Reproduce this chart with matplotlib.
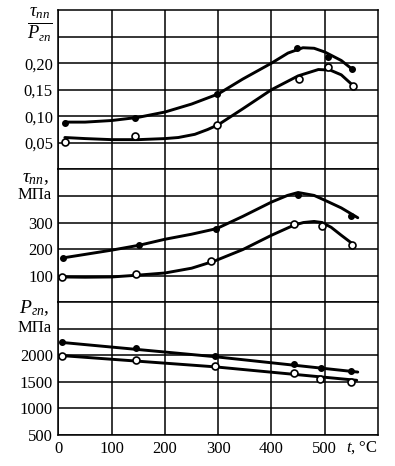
import matplotlib
matplotlib.use("Agg")
from matplotlib import pyplot as plt

plt.rcParams['font.family'] = ['Liberation Serif', 'DejaVu Serif']
plt.rcParams['mathtext.fontset'] = 'custom'
plt.rcParams['mathtext.rm'] = 'Liberation Serif'
plt.rcParams['mathtext.it'] = 'Liberation Serif:italic'
plt.rcParams['mathtext.bf'] = 'Liberation Serif:bold'

# --- ratio tau/P (top panel) ---
ratio_curve1_t = [12, 50, 100, 150, 200, 250, 300, 346, 400, 431, 459, 480, 500, 531, 551]
ratio_curve1_v = [0.089, 0.089, 0.092, 0.098, 0.108, 0.123, 0.142, 0.170, 0.200, 0.219, 0.229, 0.228, 0.221, 0.205, 0.189]
ratio_curve2_t = [12, 50, 100, 150, 200, 225, 256, 280, 300, 346, 400, 450, 488, 510, 531, 553]
ratio_curve2_v = [0.060, 0.058, 0.056, 0.056, 0.058, 0.060, 0.066, 0.075, 0.084, 0.114, 0.150, 0.176, 0.188, 0.187, 0.178, 0.158]
ratio_pts1_t = [12, 143, 297, 448, 506, 551]
ratio_pts1_v = [0.088, 0.096, 0.142, 0.228, 0.212, 0.189]
ratio_pts2_t = [12, 144, 297, 452, 506, 553]
ratio_pts2_v = [0.052, 0.062, 0.083, 0.170, 0.192, 0.157]

# --- tau_nn, MPa (middle panel) ---
tau_curve1_t = [9, 50, 100, 153, 200, 250, 297, 346, 400, 430, 450, 480, 500, 531, 562]
tau_curve1_v = [167, 180, 196, 215, 237, 256, 277, 323, 377, 402, 413, 402, 384, 355, 318]
tau_curve2_t = [6, 50, 100, 150, 200, 250, 293, 346, 400, 442, 460, 480, 495, 512, 531, 556]
tau_curve2_v = [95, 94, 95, 102, 110, 128, 155, 198, 252, 290, 300, 304, 300, 282, 252, 214]
tau_pts1_t = [9, 151, 296, 450, 550]
tau_pts1_v = [167, 217, 277, 405, 323]
tau_pts2_t = [6, 145, 287, 442, 495, 551]
tau_pts2_v = [95, 105, 154, 296, 286, 214]

# --- P_gp, MPa (bottom panel) ---
p_line1_t = [6, 293, 562]
p_line1_v = [2243, 1975, 1685]
p_line2_t = [6, 293, 560]
p_line2_v = [1995, 1784, 1530]
p_pts1_t = [6, 145, 293, 442, 493, 550]
p_pts1_v = [2243, 2130, 1995, 1829, 1765, 1703]
p_pts2_t = [6, 146, 293, 442, 492, 550]
p_pts2_v = [1995, 1910, 1797, 1671, 1553, 1502]

x_ticks = [0, 100, 200, 300, 400, 500]

fig = plt.figure(figsize=(3.95, 4.66), dpi=100)
left, width = 0.148, 0.809
ax1 = fig.add_axes([left, 0.6365, width, 0.342])
ax2 = fig.add_axes([left, 0.3515, width, 0.285])
ax3 = fig.add_axes([left, 0.0665, width, 0.285])

lw = 2.1
for ax in (ax1, ax2, ax3):
    ax.set_xlim(0, 600)
    ax.set_xticks(x_ticks)
    ax.grid(True, color='black', linewidth=1.1)
    ax.tick_params(length=0, labelsize=12, pad=4)
    for s in ax.spines.values():
        s.set_linewidth(1.1)
    ax.set_axisbelow(True)

ax1.set_ylim(0, 0.30)
ax1.set_yticks([0.05, 0.10, 0.15, 0.20, 0.25], ['0,05', '0,10', '0,15', '0,20', ''])
ax1.tick_params(labelbottom=False)
ax1.plot(ratio_curve1_t, ratio_curve1_v, color='black', lw=lw, solid_capstyle='round')
ax1.plot(ratio_curve2_t, ratio_curve2_v, color='black', lw=lw, solid_capstyle='round')
ax1.plot(ratio_pts1_t, ratio_pts1_v, 'o', color='black', ms=4)
ax1.plot(ratio_pts2_t, ratio_pts2_v, 'o', mfc='white', mec='black', mew=1.2, ms=5)
ax1.text(-0.02, 0.272, r'$\frac{\tau_{nn}}{P_{гп}}$', transform=ax1.get_yaxis_transform(),
         ha='right', va='center', fontsize=19)

ax2.set_ylim(0, 500)
ax2.set_yticks([100, 200, 300, 400], ['100', '200', '300', ''])
ax2.tick_params(labelbottom=False)
ax2.plot(tau_curve1_t, tau_curve1_v, color='black', lw=lw, solid_capstyle='round')
ax2.plot(tau_curve2_t, tau_curve2_v, color='black', lw=lw, solid_capstyle='round')
ax2.plot(tau_pts1_t, tau_pts1_v, 'o', color='black', ms=4)
ax2.plot(tau_pts2_t, tau_pts2_v, 'o', mfc='white', mec='black', mew=1.2, ms=5)
ax2.text(-0.03, 465, r'$\tau_{nn}$,', transform=ax2.get_yaxis_transform(),
         ha='right', va='center', fontsize=14)
ax2.text(-0.02, 402, 'МПа', transform=ax2.get_yaxis_transform(),
         ha='right', va='center', fontsize=12)

ax3.set_ylim(500, 3000)
ax3.set_yticks([500, 1000, 1500, 2000, 2500], ['500', '1000', '1500', '2000', ''])
ax3.set_xticklabels([str(v) for v in x_ticks])
ax3.plot(p_line1_t, p_line1_v, color='black', lw=lw, solid_capstyle='round')
ax3.plot(p_line2_t, p_line2_v, color='black', lw=lw, solid_capstyle='round')
ax3.plot(p_pts1_t, p_pts1_v, 'o', color='black', ms=4)
ax3.plot(p_pts2_t, p_pts2_v, 'o', mfc='white', mec='black', mew=1.2, ms=5)
ax3.text(-0.03, 2880, r'$P_{гп}$,', transform=ax3.get_yaxis_transform(),
         ha='right', va='center', fontsize=14)
ax3.text(-0.02, 2520, 'МПа', transform=ax3.get_yaxis_transform(),
         ha='right', va='center', fontsize=12)
ax3.text(570, -0.03, r'$t$, °C', transform=ax3.get_xaxis_transform(),
         ha='center', va='top', fontsize=12)

fig.savefig('out.png', dpi=100)
